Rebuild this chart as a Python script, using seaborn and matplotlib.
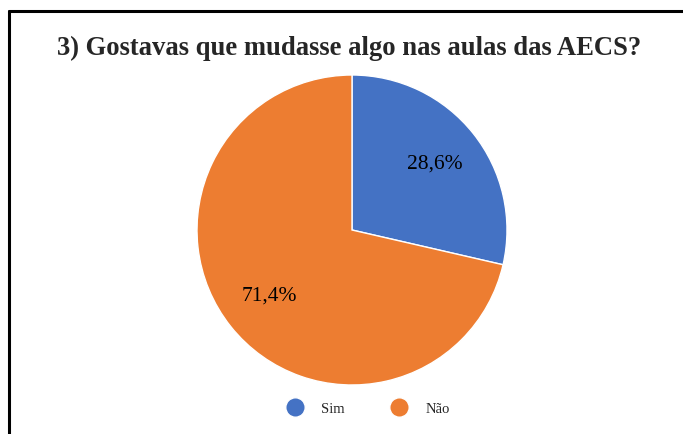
import matplotlib
matplotlib.use("Agg")
import matplotlib.pyplot as plt
import seaborn as sns
from matplotlib.lines import Line2D

sns.set_style("white")
plt.rcParams['font.family'] = ['Liberation Serif', 'DejaVu Serif']

title = "3) Gostavas que mudasse algo nas aulas das AECS?"
categories = ["Sim", "Não"]
values = [28.6, 71.4]
colors = ["#4472C4", "#ED7D31"]

W, H = 683, 434
fig = plt.figure(figsize=(W / 100, H / 100), dpi=100)
fig.patch.set_facecolor("white")

# border lines (left and top)
fig.add_artist(Line2D([8.5 / W, 8.5 / W], [0, 1 - 10.5 / H], color="black", lw=2.2, transform=fig.transFigure))
fig.add_artist(Line2D([8.5 / W, 1], [1 - 10.5 / H, 1 - 10.5 / H], color="black", lw=2.2, transform=fig.transFigure))

cx, cy, r = 352, 230, 155
ax = fig.add_axes([(cx - r) / W, (H - cy - r) / H, 2 * r / W, 2 * r / H])
wedges, texts, autotexts = ax.pie(
    values, colors=colors, startangle=90, counterclock=False,
    autopct=lambda p: f"{p:.1f}%".replace(".", ","), pctdistance=0.68,
    radius=1, textprops=dict(fontsize=15.5, color="black"),
)
ax.set_xlim(-1, 1)
ax.set_ylim(-1, 1)
ax.set_aspect("equal")
ax.axis("off")

fig.text(349 / W, 1 - 48 / H, title, ha="center", va="center", fontsize=19.2, fontweight="bold")

handles = [Line2D([0], [0], marker="o", color="w", markerfacecolor=c, markersize=14, lw=0) for c in colors]
fig.legend(handles, categories, loc="center", bbox_to_anchor=(365 / W, 1 - 409 / H), ncol=2,
           frameon=False, fontsize=10.5, handletextpad=0.8, columnspacing=2.75)

fig.savefig("out.png", dpi=100)
